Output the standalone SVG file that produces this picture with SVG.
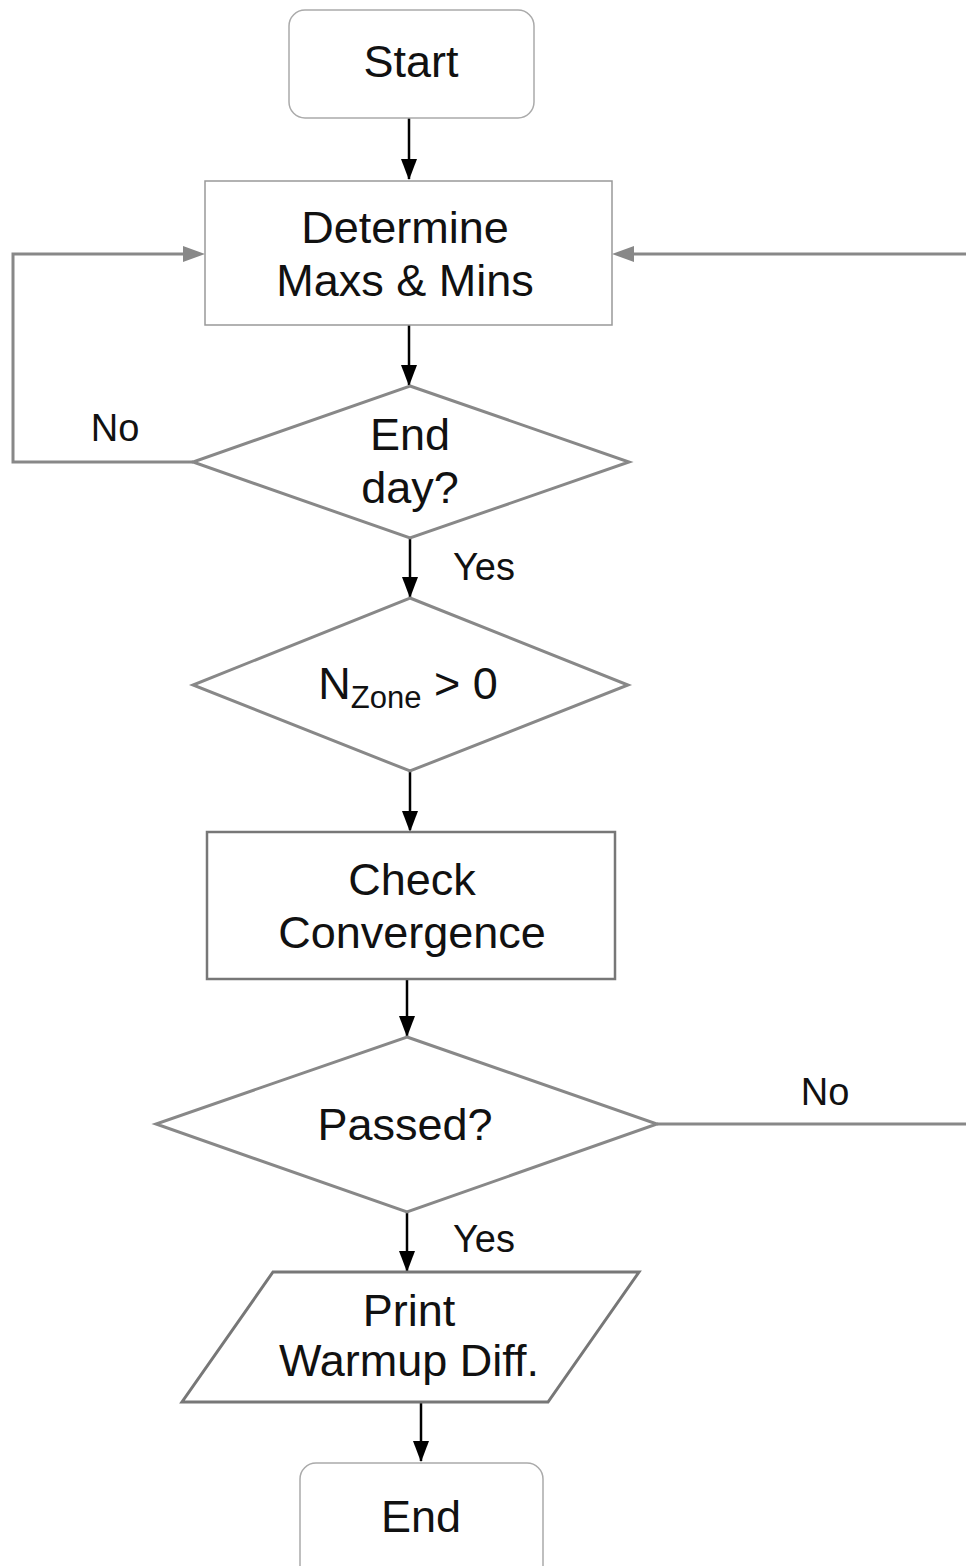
<svg xmlns="http://www.w3.org/2000/svg" width="966" height="1566" viewBox="0 0 966 1566">
<style>
text{font-family:"Liberation Sans",Arial,sans-serif;font-size:45px;fill:#111;text-anchor:middle}
.lbl{font-size:38px}
.term{fill:#fff;stroke:#aaa;stroke-width:1.5}
.proc{fill:#fff;stroke:#999;stroke-width:1.5}
.dec{fill:#fff;stroke:#888;stroke-width:3}
.box2{fill:#fff;stroke:#777;stroke-width:2.5}
.io{fill:#fff;stroke:#777;stroke-width:3}
.blk{stroke:#000;stroke-width:2.5}
.hb{fill:#000}
.gry{stroke:#888;stroke-width:3;fill:none}
.hg{fill:#888}
</style>
<g id="connectors">
<line class="blk" x1="409" y1="118" x2="409" y2="179"/>
<path class="hb" d="M401,159 L417,159 L409,180 Z"/>
<line class="blk" x1="409" y1="325" x2="409" y2="385"/>
<path class="hb" d="M401,365 L417,365 L409,386 Z"/>
<line class="blk" x1="410" y1="538" x2="410" y2="597"/>
<path class="hb" d="M402,577 L418,577 L410,598 Z"/>
<line class="blk" x1="410" y1="771" x2="410" y2="830"/>
<path class="hb" d="M402,811 L418,811 L410,832 Z"/>
<line class="blk" x1="407" y1="979" x2="407" y2="1036"/>
<path class="hb" d="M399,1016 L415,1016 L407,1037 Z"/>
<line class="blk" x1="407" y1="1212" x2="407" y2="1271"/>
<path class="hb" d="M399,1251 L415,1251 L407,1272 Z"/>
<line class="blk" x1="421" y1="1402" x2="421" y2="1461"/>
<path class="hb" d="M413,1441 L429,1441 L421,1462 Z"/>
<path class="gry" d="M193,462 L13,462 L13,254 L190,254"/>
<path class="hg" d="M183,246 L205,254 L183,262 Z"/>
<path class="gry" d="M657,1124 L980,1124 L980,254 L627,254"/>
<path class="hg" d="M634,246 L612,254 L634,262 Z"/>
<text class="lbl" x="115" y="441">No</text>
<text class="lbl" x="484" y="580">Yes</text>
<text class="lbl" x="825" y="1105">No</text>
<text class="lbl" x="484" y="1252">Yes</text>
</g>
<g id="start">
<rect class="term" x="289" y="10" width="245" height="108" rx="16"/>
<text x="411" y="77">Start</text>
</g>
<g id="determine">
<rect class="proc" x="205" y="181" width="407" height="144"/>
<text x="405" y="243">Determine</text>
<text x="405" y="296">Maxs &amp; Mins</text>
</g>
<g id="endday">
<polygon class="dec" points="410,386 629,462 410,538 193,462"/>
<text x="410" y="450">End</text>
<text x="410" y="503">day?</text>
</g>
<g id="nzone">
<polygon class="dec" points="410,598 628,685 410,771 193,685"/>
<text x="408" y="699">N<tspan font-size="31" dy="9">Zone</tspan><tspan dy="-9"> &gt; 0</tspan></text>
</g>
<g id="check">
<rect class="box2" x="207" y="832" width="408" height="147"/>
<text x="412" y="895">Check</text>
<text x="412" y="948">Convergence</text>
</g>
<g id="passed">
<polygon class="dec" points="407,1037 657,1124 407,1212 156,1124"/>
<text x="405" y="1140">Passed?</text>
</g>
<g id="print">
<polygon class="io" points="273,1272 639,1272 548,1402 182,1402"/>
<text x="409" y="1326">Print</text>
<text x="409" y="1376">Warmup Diff.</text>
</g>
<g id="end">
<rect class="term" x="300" y="1463" width="243" height="120" rx="16"/>
<text x="421" y="1532">End</text>
</g>
</svg>
